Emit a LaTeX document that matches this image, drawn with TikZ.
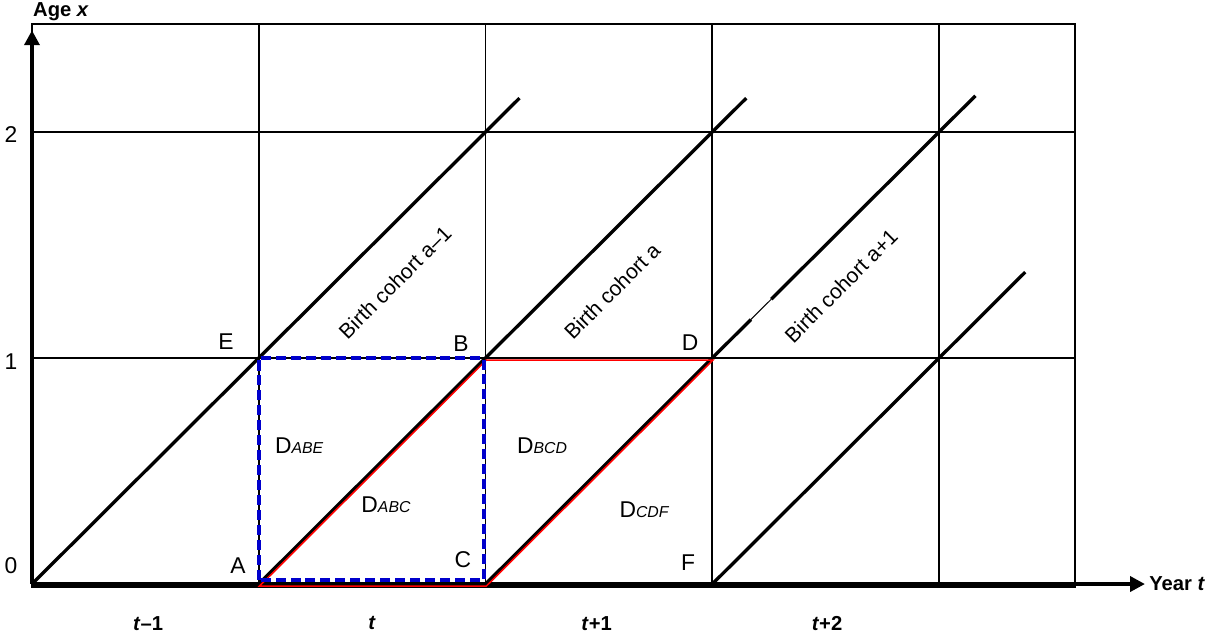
\documentclass[tikz,border=0pt]{standalone}
\usepackage{fontspec}
\setmainfont{Liberation Sans}
\usetikzlibrary{arrows.meta}
\definecolor{lexisblue}{RGB}{0,0,204}

\begin{document}
\begin{tikzpicture}[x=4.535cm, y=4.52cm,
  gridline/.style={line width=1.1pt},
  cohortline/.style={line width=1.9pt},
  axisline/.style={line width=2.3pt, -{Triangle[width=8.5pt,length=8.5pt]}},
  redpath/.style={red, line width=0.9pt, line join=miter},
  bluebox/.style={lexisblue, line width=2.3pt, dash pattern=on 5.7pt off 2.8pt},
  ptlabel/.style={font=\fontsize{13}{15}\selectfont},
  axlabel/.style={font=\fontsize{11.5}{13}\selectfont\bfseries},
  cohortlabel/.style={font=\fontsize{12}{14}\selectfont, rotate=45}]

  \useasboundingbox (-0.141,-0.248) rectangle (5.208,2.584);

  % Corner points
  \def\gridtop{2.478}
  \def\gridright{4.6}
  \coordinate (O) at (0,0);
  \coordinate (A) at (1,0);
  \coordinate (C) at (2,0);
  \coordinate (F) at (3,0);
  \coordinate (E) at (1,1);
  \coordinate (B) at (2,1);
  \coordinate (D) at (3,1);

  % Grid
  \draw[gridline] (0,-0.012) rectangle (\gridright,\gridtop);
  \foreach \i in {1,...,4}
    \draw[gridline] (\i,-0.012) -- (\i,\gridtop);
  \foreach \j in {1,2}
    \draw[gridline] (0,\j) -- (\gridright,\j);

  % Cohort lines
  \coordinate (end1) at (2.15,2.15);
  \coordinate (end2) at (3.15,2.15);
  \coordinate (gap1) at (3.17,1.17);
  \coordinate (gap2) at (3.26,1.26);
  \coordinate (end3) at (4.16,2.16);
  \coordinate (end4) at (4.38,1.38);
  \draw[cohortline] (O) -- (end1);
  \draw[cohortline] (A) -- (end2);
  \draw[cohortline] (C) -- (gap1);
  \draw[line width=0.6pt] (gap1) -- (gap2);
  \draw[cohortline] (gap2) -- (end3);
  \draw[cohortline] (F) -- (end4);

  % Axes
  \coordinate (ytip) at (0,2.45);
  \coordinate (xtip) at (4.908,0);
  \draw[axisline] (O) -- (ytip);
  \draw[axisline] (O) -- (xtip);

  % Parallelogram ABDC
  \begin{scope}[transform canvas={xshift=0.4pt, yshift=-1.2pt}]
    \draw[redpath] (A) -- (B) -- (D) -- (C) -- cycle;
  \end{scope}

  % Square ACBE
  \draw[bluebox] ([yshift=2.5pt]A) rectangle ([xshift=-1pt]B);

  % Axis labels
  \node[axlabel, anchor=base west] (agelab) at (-0.022,2.513) {Age \textit{x}};
  \node[axlabel, anchor=west] (yearlab) at (4.9,0) {Year \textit{t}};
  \node[ptlabel] (age0) at (-0.093,0.08) {0};
  \node[ptlabel] (age1) at (-0.093,0.982) {1};
  \node[ptlabel] (age2) at (-0.093,1.99) {2};
  \node[axlabel] (yr1) at (0.512,-0.173) {\textit{t}--1};
  \node[axlabel] (yr2) at (1.5,-0.173) {\textit{t}};
  \node[axlabel] (yr3) at (2.49,-0.173) {\textit{t}+1};
  \node[axlabel] (yr4) at (3.506,-0.173) {\textit{t}+2};

  % Point labels
  \node[ptlabel] (labE) at (0.856,1.071) {E};
  \node[ptlabel] (labB) at (1.892,1.062) {B};
  \node[ptlabel] (labD) at (2.902,1.066) {D};
  \node[ptlabel] (labA) at (0.908,0.080) {A};
  \node[ptlabel] (labC) at (1.9,0.106) {C};
  \node[ptlabel] (labF) at (2.893,0.093) {F};

  % Death counts
  \node[ptlabel] (dABE) at (1.178,0.611) {D{\fontsize{9}{10}\selectfont\itshape ABE}};
  \node[ptlabel] (dABC) at (1.561,0.350) {D{\fontsize{9}{10}\selectfont\itshape ABC}};
  \node[ptlabel] (dBCD) at (2.249,0.611) {D{\fontsize{9}{10}\selectfont\itshape BCD}};
  \node[ptlabel] (dCDF) at (2.699,0.327) {D{\fontsize{9}{10}\selectfont\itshape CDF}};

  % Cohort labels
  \node[cohortlabel] (coh1) at (1.601,1.336) {Birth cohort a--1};
  \node[cohortlabel] (coh2) at (2.558,1.296) {Birth cohort a};
  \node[cohortlabel] (coh3) at (3.568,1.319) {Birth cohort a+1};

\end{tikzpicture}
\end{document}
